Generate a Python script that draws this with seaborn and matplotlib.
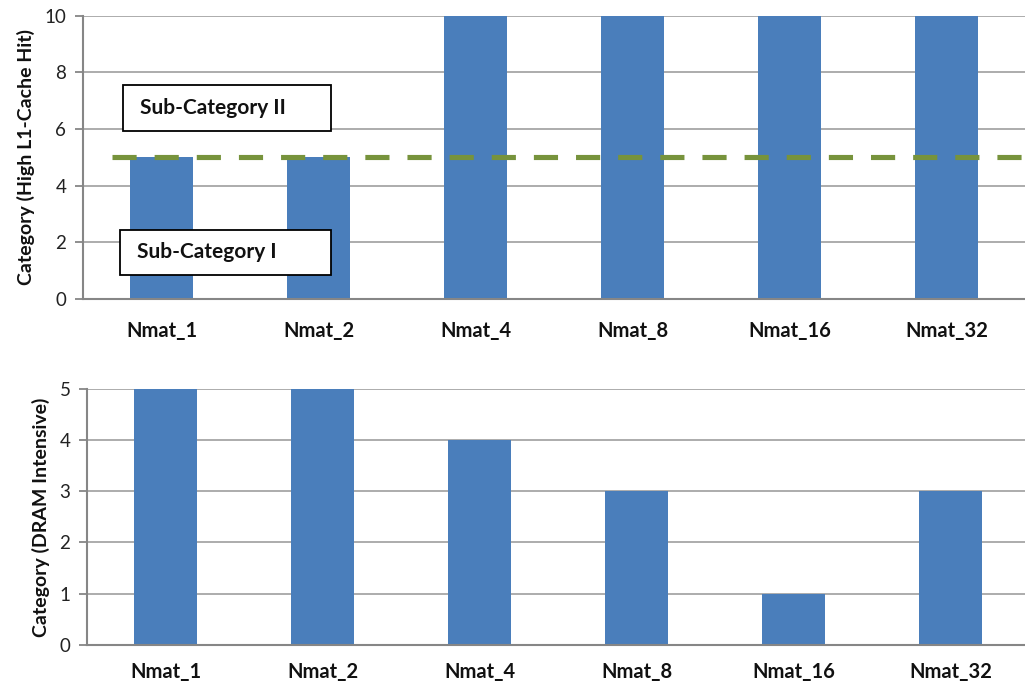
import matplotlib
matplotlib.use("Agg")
import matplotlib.pyplot as plt
import seaborn as sns
import pandas as pd
import numpy as np

categories = ["Nmat_1", "Nmat_2", "Nmat_4", "Nmat_8", "Nmat_16", "Nmat_32"]
l1_hit = [5, 5, 10, 10, 10, 10]
dram = [5, 5, 4, 3, 1, 3]
threshold = 5
top_ticks = [0, 2, 4, 6, 8, 10]
bottom_ticks = [0, 1, 2, 3, 4, 5]

sns.set_theme(style="white")
plt.rcParams["font.family"] = ["Lato", "DejaVu Sans"]

BAR = "#4A7EBB"
GRID = "#A6A6A6"
AXIS = "#868686"
LINE = "#77933C"

fig = plt.figure(figsize=(10.25, 6.86), dpi=100)
ax1 = fig.add_axes([0.081, 0.564, 0.919, 0.413])
ax2 = fig.add_axes([0.085, 0.060, 0.919, 0.373])


def style_axes(ax, ticks, ylabel):
    ax.set_ylim(ticks[0], ticks[-1])
    ax.set_xlim(-0.5, len(categories) - 0.5)
    ax.set_yticks(ticks)
    ax.set_yticklabels([str(t) for t in ticks], fontsize=13.5, color="#222222")
    ax.yaxis.grid(True, color=GRID, linewidth=1.3)
    ax.set_axisbelow(True)
    for s in ["top", "right"]:
        ax.spines[s].set_visible(False)
    for s in ["left", "bottom"]:
        ax.spines[s].set_color(AXIS)
        ax.spines[s].set_linewidth(1.5)
    ax.set_xticks(range(len(categories)))
    ax.set_xticklabels(categories, fontsize=14.5, fontweight="bold", color="#111111")
    ax.set_xticks(np.arange(-0.5, len(categories), 1.0), minor=True)
    ax.tick_params(axis="x", which="major", length=0, pad=14)
    ax.tick_params(axis="x", which="minor", length=6, width=1.3, color=AXIS, direction="out")
    ax.tick_params(axis="y", length=6, width=1.3, color=AXIS, direction="out", left=True, pad=6)
    ax.set_xlabel("")
    ax.set_ylabel(ylabel, fontsize=14, fontweight="bold", color="#111111", labelpad=7)


df1 = pd.DataFrame({"cat": categories, "val": l1_hit})
df2 = pd.DataFrame({"cat": categories, "val": dram})

sns.barplot(data=df1, x="cat", y="val", order=categories, color=BAR,
            saturation=1, width=0.4, ax=ax1, linewidth=0)
sns.barplot(data=df2, x="cat", y="val", order=categories, color=BAR,
            saturation=1, width=0.4, ax=ax2, linewidth=0)

style_axes(ax1, top_ticks, "Category (High L1-Cache Hit)")
style_axes(ax2, bottom_ticks, "Category (DRAM Intensive)")
ax1.tick_params(axis="x", which="major", pad=16)
ax2.tick_params(axis="x", which="major", pad=12)

# threshold separating the two sub-categories
ax1.plot([-0.315, 5.49], [threshold, threshold], color=LINE, linewidth=3.7,
         linestyle=(0, (4.7, 3.5)), clip_on=False, zorder=5)

for (x0, y0, x1, y1, label) in [(-0.248, 5.95, 1.077, 7.55, "Sub-Category II"),
                                (-0.267, 0.85, 1.077, 2.45, "Sub-Category I")]:
    ax1.add_patch(plt.Rectangle((x0, y0), x1 - x0, y1 - y0, facecolor="white",
                                edgecolor="black", linewidth=1.3, zorder=6))
    ax1.text(x0 + 0.11, (y0 + y1) / 2, label, fontsize=15, fontweight="bold",
             va="center", ha="left", color="#111111", zorder=7)

fig.savefig("out.png", dpi=100)
